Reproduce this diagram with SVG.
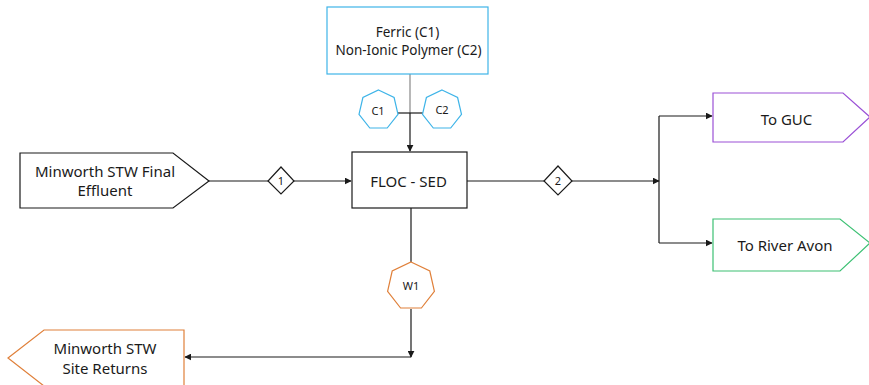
<svg xmlns="http://www.w3.org/2000/svg" width="869" height="385" viewBox="0 0 869 385">
<style>
text{font-family:"Noto Sans","Liberation Sans",Arial,sans-serif;fill:#1a1a1a;text-anchor:middle}
.n{fill:#fff;stroke-width:1.2}
.c{fill:none;stroke:#1a1a1a;stroke-width:1.2}
.big{font-size:15px}
.sm{font-size:13.5px}
.xs{font-size:11px}
</style>
<defs>
<marker id="a" viewBox="0 0 10 10" refX="9" refY="5" markerWidth="7" markerHeight="7" markerUnits="userSpaceOnUse" orient="auto"><path d="M0,0L10,5L0,10z" fill="#1a1a1a"/></marker>
</defs>
<g id="connectors">
<path class="c" d="M410,74V113" style="stroke:#888"/>
<path class="c" d="M410,113V151" marker-end="url(#a)"/>
<path class="c" d="M398,113H423"/>
<path class="c" d="M209,181H268"/>
<path class="c" d="M294,181H351" marker-end="url(#a)"/>
<path class="c" d="M467,181H544"/>
<path class="c" d="M572,181H659" marker-end="url(#a)"/>
<path class="c" d="M659,116V243"/>
<path class="c" d="M659,116H712" marker-end="url(#a)"/>
<path class="c" d="M659,243H712" marker-end="url(#a)"/>
<path class="c" d="M411,208V262"/>
<path class="c" d="M411,309V357" marker-end="url(#a)"/>
<path class="c" d="M411,357H185" marker-end="url(#a)"/>
</g>
<g id="chem">
<rect class="n" x="327" y="7" width="161" height="67" stroke="#3EB4E8"/>
<text class="sm" x="407.5" y="37">Ferric (C1)</text>
<text class="sm" x="408.5" y="55">Non-Ionic Polymer (C2)</text>
</g>
<g id="c1">
<polygon class="n" stroke="#3EB4E8" points="378.5,90 394.1,97.5 398,114.4 387.2,128 369.8,128 359,114.4 362.9,97.5"/>
<text class="xs" x="378" y="115">C1</text>
</g>
<g id="c2">
<polygon class="n" stroke="#3EB4E8" points="442,90 457.6,97.5 461.5,114.4 450.7,128 433.3,128 422.5,114.4 426.4,97.5"/>
<text class="xs" x="442" y="113.5">C2</text>
</g>
<g id="input">
<polygon class="n" stroke="#1a1a1a" points="20,153 173,153 209,181 173,208 20,208"/>
<text class="big" x="105" y="177">Minworth STW Final</text>
<text class="big" x="105" y="196">Effluent</text>
</g>
<g id="d1">
<polygon class="n" stroke="#1a1a1a" points="281,167 294,181 281,194 268,181"/>
<text class="xs" x="281" y="185">1</text>
</g>
<g id="floc">
<rect class="n" x="352" y="152" width="115" height="56" stroke="#1a1a1a"/>
<text class="big" x="408.5" y="186.5">FLOC - SED</text>
</g>
<g id="d2">
<polygon class="n" stroke="#1a1a1a" points="558,166 572,181 558,195 544,181"/>
<text class="xs" x="558" y="185">2</text>
</g>
<g id="guc">
<polygon class="n" stroke="#9B51D6" points="713,93 843,93 870,117 843,142 713,142"/>
<text class="big" x="786.5" y="124.5">To GUC</text>
</g>
<g id="avon">
<polygon class="n" stroke="#3CC073" points="713,219 840,219 870,243 840,271 713,271"/>
<text class="big" x="785" y="250.5">To River Avon</text>
</g>
<g id="w1">
<polygon class="n" stroke="#E0803A" points="411,262 429.8,271 434.4,291.4 421.4,308 400.6,308 387.6,291.4 392.2,271"/>
<text class="xs" x="411" y="290">W1</text>
</g>
<g id="returns">
<polygon class="n" stroke="#E0803A" points="8,358 44,330 184,330 184,386 44,386"/>
<text class="big" x="105" y="354">Minworth STW</text>
<text class="big" x="105" y="374">Site Returns</text>
</g>
</svg>
